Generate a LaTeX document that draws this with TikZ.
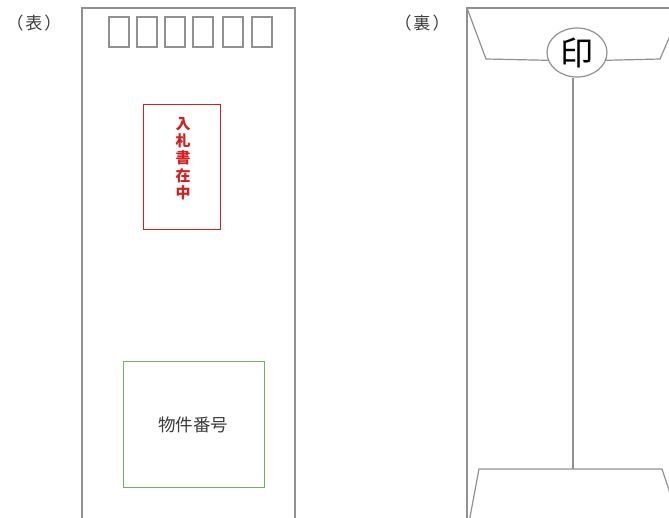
\documentclass[tikz,border=0pt]{standalone}
\usepackage{fontspec}
\newfontfamily\jp{Noto Sans CJK JP}
\usetikzlibrary{shapes.geometric}
\definecolor{envgray}{RGB}{145,145,145}
\definecolor{redbox}{RGB}{215,30,30}
\definecolor{greenbox}{RGB}{120,175,95}
\definecolor{txtgray}{RGB}{60,60,60}
\tikzset{
  envline/.style={draw=envgray, line width=1.2pt},
  stampbox/.style={draw=envgray, line width=1.1pt, minimum width=20pt, minimum height=30pt, inner sep=0pt},
  label/.style={font=\jp\fontsize{17}{19}\selectfont, text=txtgray, inner sep=0pt},
}
\begin{document}
\begin{tikzpicture}[x=1pt,y=-1pt]
\useasboundingbox (0,0) rectangle (669,517);
\fill[white] (0,0) rectangle (669,517);
\clip (0,0) rectangle (669,517);
% labels
\node[label] (omote) at (34,23) {（\kern2pt表\kern2pt）};
\node[label] (ura) at (422,23) {（\kern2pt裏\kern2pt）};
% front envelope
\draw[envline] (82,540) -- (82,8) -- (295,8) -- (295,540);
\foreach \i/\x in {1/119,2/147,3/175,4/203,5/233,6/262}{
  \node[stampbox] (stamp\i) at (\x,32) {};
}
\node[draw=redbox, line width=1pt, minimum width=77pt, minimum height=125pt, inner sep=0pt] (redrect) at (181.5,166.5) {};
\node[font=\jp\bfseries\fontsize{15}{17.4}\selectfont, text=redbox, align=center, inner sep=0pt] (nyusatsu) at (183,158.5) {入\\札\\書\\在\\中};
\node[draw=greenbox, line width=1pt, minimum width=141pt, minimum height=126pt, inner sep=0pt] (greenrect) at (193.5,424) {};
\node[font=\jp\fontsize{17.5}{19}\selectfont, text=txtgray, inner sep=0pt] (bukken) at (193,425) {物件番号};
% back envelope
\draw[envline] (467,540) -- (467,8) -- (700,8);
\node[ellipse, draw=envgray, line width=1.2pt, minimum width=60pt, minimum height=49pt, inner sep=0pt,
      font=\jp\fontsize{33}{36}\selectfont] (inkan) at (577,52.5) {印};
\coordinate (flapL) at (486,59);
\coordinate (flapR) at (660,59);
\draw[envline] (467,8) -- (flapL) -- (inkan.195);
\draw[envline] (inkan.-15) -- (flapR) -- (682,8);
\coordinate (botL) at (479,469);
\coordinate (botR) at (662,469);
\coordinate (botmid) at (573,469);
\draw[envline] (467,533) -- (botL) -- (botR) -- (672,499);
\draw[envline] (inkan.south -| botmid) -- (botmid);
\end{tikzpicture}
\end{document}
